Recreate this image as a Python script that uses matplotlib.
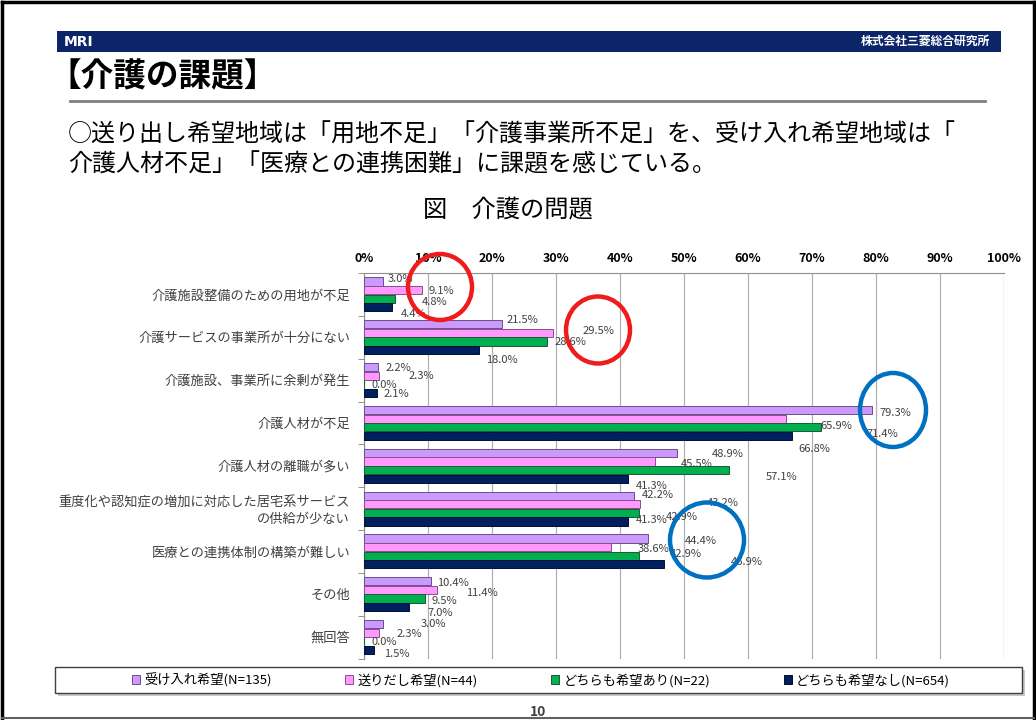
import matplotlib
matplotlib.use("Agg")
import matplotlib.pyplot as plt
from matplotlib.patches import Patch, Rectangle, Ellipse
from matplotlib.lines import Line2D

plt.rcParams['font.family'] = ['Noto Sans CJK JP', 'DejaVu Sans']

categories = [
    "介護施設整備のための用地が不足",
    "介護サービスの事業所が十分にない",
    "介護施設、事業所に余剰が発生",
    "介護人材が不足",
    "介護人材の離職が多い",
    "重度化や認知症の増加に対応した居宅系サービス\nの供給が少ない",
    "医療との連携体制の構築が難しい",
    "その他",
    "無回答",
]
series_names = [
    "受け入れ希望(N=135)",
    "送りだし希望(N=44)",
    "どちらも希望あり(N=22)",
    "どちらも希望なし(N=654)",
]
ukeire = [3.0, 21.5, 2.2, 79.3, 48.9, 42.2, 44.4, 10.4, 3.0]
okuridashi = [9.1, 29.5, 2.3, 65.9, 45.5, 43.2, 38.6, 11.4, 2.3]
dochira_ari = [4.8, 28.6, 0.0, 71.4, 57.1, 42.9, 42.9, 9.5, 0.0]
dochira_nashi = [4.4, 18.0, 2.1, 66.8, 41.3, 41.3, 46.9, 7.0, 1.5]
x_ticks = [0, 10, 20, 30, 40, 50, 60, 70, 80, 90, 100]

# styling
face = ['#cc99ff', '#ff99ff', '#00b050', '#002060']
edge = ['#6a4f8a', '#8a4f8a', '#1f5a30', '#001030']
# label offsets (pixels, right / down) copying the hand-placed labels of the original
lbl_off = [
    [(4, -3), (5, -4), (7, 1), (8, 3), (35, 1), (8, -1), (37, 2), (7, 2), (37, 0)],
    [(6, 1), (30, -2), (30, 0), (35, 7), (26, 3), (66, -1), (27, 2), (29, 3), (18, 1)],
    [(27, 3), (8, 0), (8, 1), (46, 7), (36, 7), (27, 4), (31, -2), (7, 2), (8, 1)],
    [(9, 7), (7, 10), (6, 1), (7, 13), (7, 7), (7, -1), (67, -2), (19, 6), (10, 4)],
]

W, H = 1036, 720
fig = plt.figure(figsize=(W / 100, H / 100), dpi=100)


def fx(px):
    return px / W


def fy(py):
    return 1 - py / H


# slide frame
fig.add_artist(Line2D([fx(2), fx(2)], [fy(2), fy(719)], color='black', lw=2.5))
fig.add_artist(Line2D([fx(2), fx(1034)], [fy(2), fy(2)], color='black', lw=2.5))
fig.add_artist(Line2D([fx(1034), fx(1034)], [fy(2), fy(719)], color='black', lw=2.5))
fig.add_artist(Line2D([fx(2), fx(1034)], [fy(718), fy(718)], color='#606060', lw=1.5))

# header bar
fig.add_artist(Rectangle((fx(57), fy(52)), fx(1001) - fx(57), fy(31) - fy(52),
                         color='#0c2468', lw=0))
fig.text(fx(64), fy(41.5), "MRI", color='white', fontsize=10, fontweight='bold',
         va='center', ha='left', family='DejaVu Sans')
fig.text(fx(990), fy(41.5), "株式会社三菱総合研究所", color='white', fontsize=8.5,
         fontweight='bold', va='center', ha='right')

fig.text(fx(48), fy(77), "【介護の課題】", fontsize=23.5, fontweight='bold',
         va='center', ha='left')
fig.add_artist(Line2D([fx(70), fx(985)], [fy(101), fy(101)], color='#808080', lw=2))

fig.text(fx(68), fy(135), "○送り出し希望地域は「用地不足」「介護事業所不足」を、受け入れ希望地域は「",
         fontsize=17.3, va='center', ha='left')
fig.text(fx(68), fy(164), "介護人材不足」「医療との連携困難」に課題を感じている。",
         fontsize=17.3, va='center', ha='left')
fig.text(fx(508), fy(210), "図　介護の問題", fontsize=17.5, va='center', ha='center')

# chart
ax = fig.add_axes([fx(364), fy(658.5), fx(1004) - fx(364), fy(273) - fy(658.5)])
data = [ukeire, okuridashi, dochira_ari, dochira_nashi]
ypos = list(range(len(categories)))
bh = 0.2
handles = []
for i, vals in enumerate(data):
    yy = [y + (i - 1.5) * bh for y in ypos]
    ax.barh(yy, vals, height=bh * 0.95, color=face[i], edgecolor=edge[i],
            linewidth=0.7, zorder=3)
    for j, v in enumerate(vals):
        dx, dy = lbl_off[i][j]
        ax.annotate(f"{v:.1f}%", (v, yy[j]), xytext=(dx, -dy),
                    textcoords='offset pixels', ha='left', va='center',
                    fontsize=8, color='#404040', zorder=5)
    handles.append(Patch(facecolor=face[i], edgecolor=edge[i], linewidth=0.7))

ax.set_xlim(0, 100)
ax.set_ylim(len(categories) - 0.5, -0.5)
ax.set_xticks(x_ticks)
ax.set_xticklabels([f"{t}%" for t in x_ticks], fontsize=9, fontweight='bold')
ax.xaxis.tick_top()
ax.tick_params(axis='x', length=0, pad=6)
ax.set_yticks(ypos)
ax.set_yticklabels(categories, fontsize=9.5, color='#404040', linespacing=1.3)
ax.tick_params(axis='y', which='major', length=0, pad=10)
ax.set_yticks([y - 0.5 for y in range(len(categories) + 1)], minor=True)
ax.tick_params(axis='y', which='minor', length=4, color='#808080')
ax.grid(axis='x', color='#b0b0b0', lw=0.9, zorder=0)
for s in ['right', 'bottom']:
    ax.spines[s].set_visible(False)
for s in ['top', 'left']:
    ax.spines[s].set_color('#909090')

# highlight circles
circles = [((440, 287), 64, 66, '#ee1c1c'), ((598, 330), 64, 67, '#ee1c1c'),
           ((893, 410), 66, 74, '#0070c0'), ((707, 540), 74, 75, '#0070c0')]
for (cx, cy), w, h, c in circles:
    fig.add_artist(Ellipse((fx(cx), fy(cy)), w / W, h / H, fill=False,
                           edgecolor=c, lw=3.2, zorder=10))

# legend box
fig.add_artist(Rectangle((fx(58), fy(696)), fx(1025) - fx(58), fy(670) - fy(696),
                         facecolor='#c8c8c8', lw=0))
fig.add_artist(Rectangle((fx(55), fy(693)), fx(1022) - fx(55), fy(667) - fy(693),
                         facecolor='white', edgecolor='#404040', lw=1))
fig.legend(handles, series_names, loc='center', ncol=4,
           bbox_to_anchor=(fx(541), fy(680)), frameon=False, fontsize=9.5,
           handlelength=0.6, handleheight=0.6, handletextpad=0.3,
           columnspacing=5.6)

fig.text(fx(538), fy(712), "10", fontsize=10, fontweight='bold', color='#404040',
         ha='center', va='center')

fig.savefig("out.png", dpi=100)
